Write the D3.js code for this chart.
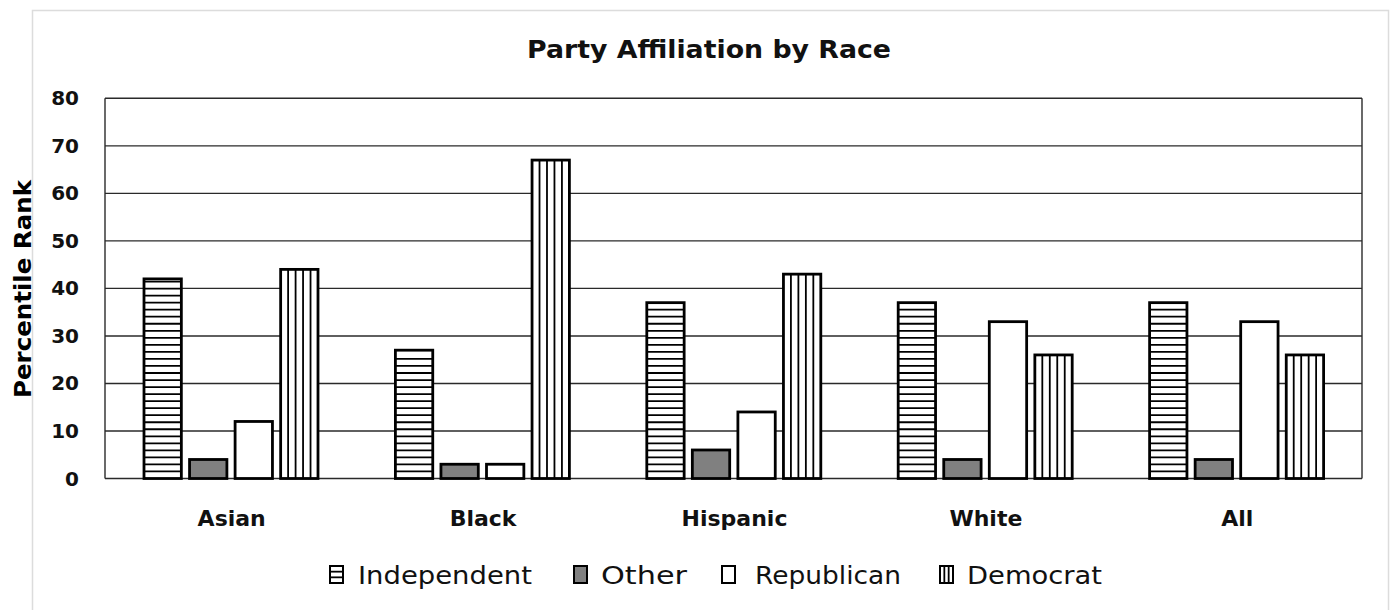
<!DOCTYPE html>
<html>
<head>
<meta charset="utf-8">
<script src="https://cdn.jsdelivr.net/npm/d3@7"></script>
<style>
  html, body { margin: 0; padding: 0; background: #fff; }
  svg { display: block; }
</style>
</head>
<body>
<svg id="chart" width="1393" height="610"></svg>
<script>
// ---- Data ----
const categories = ["Asian", "Black", "Hispanic", "White", "All"];
const seriesNames = ["Independent", "Other", "Republican", "Democrat"];
const independent = [42, 27, 37, 37, 37];
const other = [4, 3, 6, 4, 4];
const republican = [12, 3, 14, 33, 33];
const democrat = [44, 67, 43, 26, 26];
const yTicks = [0, 10, 20, 30, 40, 50, 60, 70, 80];
const titleText = "Party Affiliation by Race";
const yAxisLabel = "Percentile Rank";

const seriesValues = [independent, other, republican, democrat];

// ---- Layout ----
const plot = { left: 105, right: 1362, top: 98.3, bottom: 478.5 };
const FONT = "'DejaVu Sans', sans-serif";

const svg = d3.select("#chart");

// outer light frame
svg.append("rect")
  .attr("x", 32.5).attr("y", 10.5)
  .attr("width", 1356).attr("height", 610)
  .attr("fill", "#fff").attr("stroke", "#dcdcdc").attr("stroke-width", 1.5);

const x0 = d3.scaleBand().domain(categories).range([plot.left, plot.right]).padding(0);
const x1 = d3.scaleBand().domain(seriesNames).range([39, 213]).paddingInner(0.18).paddingOuter(0);
const y = d3.scaleLinear().domain([0, 80]).range([plot.bottom, plot.top]);

const fills = {
  "Independent": "#ffffff",
  "Other": "#808080",
  "Republican": "#ffffff",
  "Democrat": "#ffffff"
};

// gridlines
svg.append("g").selectAll("line").data(yTicks).join("line")
  .attr("x1", plot.left).attr("x2", plot.right)
  .attr("y1", d => y(d)).attr("y2", d => y(d))
  .attr("stroke", "#2a2a2a").attr("stroke-width", 1.4);
svg.append("line").attr("x1", plot.left).attr("x2", plot.left)
  .attr("y1", y(80)).attr("y2", y(0)).attr("stroke", "#2a2a2a").attr("stroke-width", 1.4);
svg.append("line").attr("x1", plot.right).attr("x2", plot.right)
  .attr("y1", y(80)).attr("y2", y(0)).attr("stroke", "#2a2a2a").attr("stroke-width", 1.4);

// y tick labels
svg.append("g").selectAll("text").data(yTicks).join("text")
  .attr("x", 79).attr("y", d => y(d))
  .attr("text-anchor", "end").attr("dominant-baseline", "central")
  .attr("font-family", FONT).attr("font-weight", "bold").attr("font-size", 20)
  .attr("fill", "#111")
  .text(d => d);

// bars
const barData = (c, ci) => seriesNames.map((s, si) => ({ s, v: seriesValues[si][ci] }));
const groups = svg.append("g").selectAll("g").data(categories).join("g")
  .attr("transform", d => `translate(${x0(d)},0)`);
const bw = x1.bandwidth();

groups.selectAll("rect")
  .data(barData)
  .join("rect")
  .attr("x", d => x1(d.s))
  .attr("y", d => y(d.v))
  .attr("width", bw)
  .attr("height", d => y(0) - y(d.v))
  .attr("fill", d => fills[d.s]);

// hatching: horizontal lines (Independent), every 1.48 units from baseline
const hStep = y(0) - y(1.48);
groups.each(function (c, ci) {
  const g = d3.select(this);
  const v = independent[ci];
  const ys = d3.range(y(0) - hStep, y(v) + 2, -hStep);
  g.selectAll("line.h").data(ys).join("line").attr("class", "h")
    .attr("x1", x1("Independent")).attr("x2", x1("Independent") + bw)
    .attr("y1", d => d).attr("y2", d => d)
    .attr("stroke", "#000").attr("stroke-width", 1.8);
  const vd = democrat[ci];
  g.selectAll("line.v").data([1, 2, 3, 4]).join("line").attr("class", "v")
    .attr("x1", k => x1("Democrat") + k * bw / 5).attr("x2", k => x1("Democrat") + k * bw / 5)
    .attr("y1", y(vd)).attr("y2", y(0))
    .attr("stroke", "#000").attr("stroke-width", 1.8);
});

// bar outlines on top
groups.selectAll("rect.outline")
  .data(barData)
  .join("rect").attr("class", "outline")
  .attr("x", d => x1(d.s))
  .attr("y", d => y(d.v))
  .attr("width", bw)
  .attr("height", d => y(0) - y(d.v))
  .attr("fill", "none")
  .attr("stroke", "#000").attr("stroke-width", 2.8);

// x category labels
svg.append("g").selectAll("text").data(categories).join("text")
  .attr("x", d => x0(d) + x0.bandwidth() / 2 + 1)
  .attr("y", 525.5)
  .attr("text-anchor", "middle")
  .attr("font-family", FONT).attr("font-weight", "bold").attr("font-size", 22)
  .attr("fill", "#111")
  .text(d => d);

// title
svg.append("text")
  .attr("x", 709).attr("y", 58)
  .attr("text-anchor", "middle")
  .attr("font-family", FONT).attr("font-weight", "bold").attr("font-size", 24)
  .attr("textLength", 364).attr("lengthAdjust", "spacingAndGlyphs")
  .attr("fill", "#111")
  .text(titleText);

// y axis label
svg.append("text")
  .attr("transform", "translate(31,289) rotate(-90)")
  .attr("text-anchor", "middle")
  .attr("font-family", FONT).attr("font-weight", "bold").attr("font-size", 23)
  .attr("textLength", 218).attr("lengthAdjust", "spacingAndGlyphs")
  .attr("fill", "#000")
  .text(yAxisLabel);

// legend
const legendX = [330, 574, 722, 940];
const legendTextX = [28, 27, 33, 27];
const legendTextW = [174, 86, 146, 135];
const boxW = 13, boxH = 17, boxY = 566;
const leg = svg.append("g").selectAll("g").data(seriesNames).join("g")
  .attr("transform", (d, i) => `translate(${legendX[i]},0)`);
leg.append("rect")
  .attr("x", 0).attr("y", boxY).attr("width", boxW).attr("height", boxH)
  .attr("fill", d => d === "Other" ? "#808080" : "#fff")
  .attr("stroke", "#000").attr("stroke-width", 2);
leg.filter(d => d === "Independent").selectAll("line.h").data([1, 2]).join("line")
  .attr("x1", 0).attr("x2", boxW)
  .attr("y1", k => boxY + k * boxH / 3).attr("y2", k => boxY + k * boxH / 3)
  .attr("stroke", "#000").attr("stroke-width", 1.8);
leg.filter(d => d === "Democrat").selectAll("line.v").data([1, 2]).join("line")
  .attr("y1", boxY).attr("y2", boxY + boxH)
  .attr("x1", k => k * boxW / 3).attr("x2", k => k * boxW / 3)
  .attr("stroke", "#000").attr("stroke-width", 1.8);
leg.append("text")
  .attr("x", (d, i) => legendTextX[i])
  .attr("y", 584)
  .attr("font-family", FONT).attr("font-size", 25)
  .attr("textLength", (d, i) => legendTextW[i]).attr("lengthAdjust", "spacingAndGlyphs")
  .attr("fill", "#111")
  .text(d => d);
</script>
</body>
</html>
